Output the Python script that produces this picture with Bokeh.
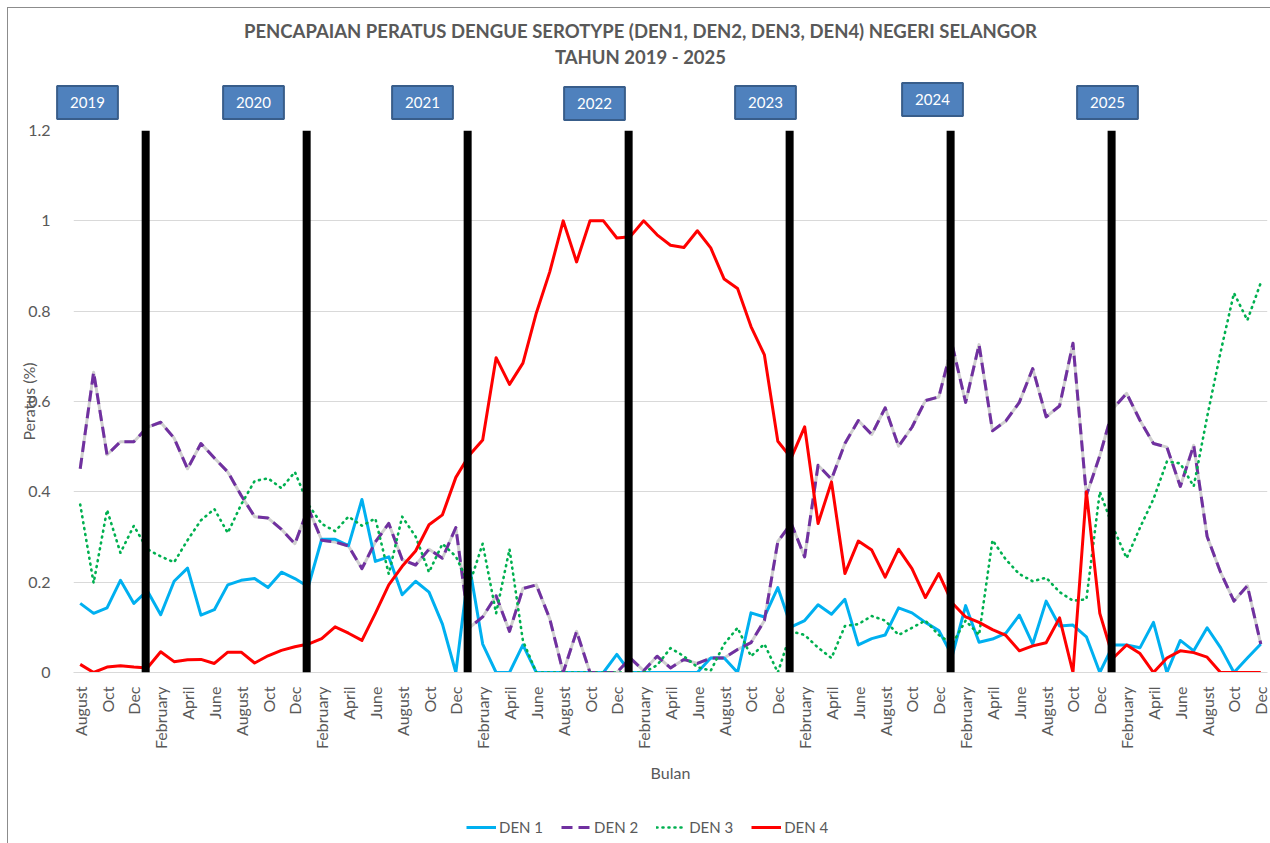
import numpy as np
from bokeh.plotting import figure
from bokeh.layouts import column
from bokeh.models import (Range1d, FixedTicker, CustomJSTickFormatter, Span,
                          Label, Legend, LegendItem)
from bokeh.embed import file_html
from bokeh.resources import INLINE

# ---------------- data ----------------
MONTH_NAMES = ["January", "February", "March", "April", "May", "June", "July",
               "August", "Sept", "Oct", "Nov", "Dec"]
START_MONTH = 7          # series starts in August
N_MONTHS = 89
months = [MONTH_NAMES[(START_MONTH + k) % 12] for k in range(N_MONTHS)]

YEARS = ["2019", "2020", "2021", "2022", "2023", "2024", "2025"]

den1 = [0.153, 0.131, 0.143, 0.204, 0.153, 0.181, 0.128, 0.202, 0.231, 0.127,
        0.139, 0.194, 0.204, 0.208, 0.188, 0.222, 0.208, 0.190, 0.295, 0.295,
        0.281, 0.383, 0.246, 0.256, 0.172, 0.202, 0.178, 0.107, 0.0, 0.238,
        0.063, 0.0, 0.0, 0.061, 0.0, 0.0, 0.0, 0.0, 0.0, 0.0,
        0.040, 0.0, 0.0, 0.0, 0.0, 0.0, 0.0, 0.032, 0.032, 0.0,
        0.132, 0.123, 0.188, 0.101, 0.115, 0.150, 0.129, 0.162, 0.061, 0.075,
        0.083, 0.143, 0.132, 0.111, 0.093, 0.037, 0.148, 0.067, 0.074, 0.087,
        0.127, 0.063, 0.158, 0.103, 0.105, 0.079, 0.0, 0.061, 0.061, 0.055,
        0.111, 0.0, 0.071, 0.048, 0.099, 0.055, 0.0, 0.032, 0.063]

den2 = [0.451, 0.665, 0.482, 0.511, 0.511, 0.543, 0.554, 0.519, 0.451, 0.507,
        0.475, 0.444, 0.392, 0.345, 0.342, 0.317, 0.285, 0.364, 0.293, 0.289,
        0.280, 0.230, 0.289, 0.330, 0.250, 0.238, 0.273, 0.253, 0.321, 0.099,
        0.123, 0.170, 0.091, 0.186, 0.194, 0.119, 0.0, 0.091, 0.0, 0.0,
        0.0, 0.032, 0.004, 0.036, 0.010, 0.029, 0.020, 0.032, 0.032, 0.051,
        0.066, 0.115, 0.290, 0.330, 0.256, 0.459, 0.428, 0.507, 0.558, 0.527,
        0.586, 0.501, 0.543, 0.602, 0.610, 0.725, 0.598, 0.726, 0.535, 0.557,
        0.598, 0.673, 0.566, 0.590, 0.729, 0.392, 0.480, 0.585, 0.618, 0.558,
        0.507, 0.499, 0.412, 0.503, 0.301, 0.222, 0.158, 0.192, 0.063]

den3 = [0.372, 0.198, 0.360, 0.265, 0.325, 0.273, 0.257, 0.244, 0.293, 0.337,
        0.362, 0.309, 0.372, 0.424, 0.430, 0.408, 0.444, 0.372, 0.329, 0.313,
        0.345, 0.325, 0.341, 0.218, 0.345, 0.301, 0.222, 0.285, 0.257, 0.194,
        0.285, 0.131, 0.273, 0.070, 0.0, 0.0, 0.0, 0.0, 0.0, 0.0,
        0.0, 0.0, 0.0, 0.016, 0.054, 0.036, 0.012, 0.004, 0.063, 0.099,
        0.036, 0.063, 0.0, 0.091, 0.083, 0.055, 0.032, 0.103, 0.107, 0.125,
        0.115, 0.083, 0.099, 0.115, 0.083, 0.063, 0.115, 0.083, 0.293, 0.250,
        0.218, 0.202, 0.210, 0.178, 0.159, 0.162, 0.400, 0.321, 0.253, 0.321,
        0.384, 0.467, 0.463, 0.412, 0.566, 0.709, 0.840, 0.780, 0.863]

den4 = [0.018, 0.0, 0.012, 0.015, 0.012, 0.010, 0.046, 0.024, 0.028, 0.029,
        0.020, 0.045, 0.045, 0.021, 0.037, 0.049, 0.057, 0.063, 0.075, 0.101,
        0.087, 0.071, 0.131, 0.194, 0.235, 0.269, 0.327, 0.349, 0.432, 0.481,
        0.515, 0.697, 0.638, 0.685, 0.796, 0.887, 1.0, 0.909, 1.0, 1.0,
        0.962, 0.965, 1.0, 0.969, 0.946, 0.941, 0.978, 0.940, 0.871, 0.850,
        0.766, 0.703, 0.512, 0.475, 0.544, 0.330, 0.422, 0.219, 0.291, 0.271,
        0.211, 0.273, 0.230, 0.166, 0.219, 0.154, 0.123, 0.111, 0.095, 0.082,
        0.048, 0.059, 0.066, 0.121, 0.0, 0.400, 0.131, 0.032, 0.061, 0.042,
        0.0, 0.032, 0.048, 0.044, 0.034, 0.0, 0.0, 0.0, 0.0]

SERIES_NAMES = ["DEN 1", "DEN 2", "DEN 3", "DEN 4"]
SERIES_COLORS = ["#00B0F0", "#7030A0", "#00B050", "#FF0000"]
TITLE_1 = "PENCAPAIAN PERATUS DENGUE SEROTYPE (DEN1, DEN2, DEN3, DEN4) NEGERI SELANGOR"
TITLE_2 = "TAHUN 2019 - 2025"

# ---------------- layout / style ----------------
FONT = "Lato"
GRAY = "#595959"
W = 1270
PAGE_H = 843
TOP_H = 121                  # header strip (title + year boxes)
MAIN_BOTTOM = 805            # page y where the chart strip ends
MAIN_H = MAIN_BOTTOM - TOP_H
LEG_H = PAGE_H - MAIN_BOTTOM
FR_L, FR_R = 73, 1267        # plot frame, page pixels
FR_T, FR_B = 130, 672

# year box centres (page pixels)
BOX_X = [87, 253, 422, 594, 765, 932, 1107]
BOX_Y = [102, 102, 102, 103, 102, 99, 102]

STYLES = [dict(line_width=3, line_dash="solid"),
          dict(line_width=3, line_dash="11 6"),
          dict(line_width=2.6, line_dash="1 5", line_cap="round"),
          dict(line_width=3, line_dash="solid")]


def strip(height):
    f = figure(width=W, height=height, output_backend="svg", toolbar_location=None,
               x_range=Range1d(0, W), y_range=Range1d(0, height),
               x_axis_location=None, y_axis_location=None, title=None,
               min_border=0)
    f.outline_line_color = None
    f.background_fill_alpha = 0
    f.border_fill_alpha = 0
    f.xgrid.visible = False
    f.ygrid.visible = False
    f.grid.visible = False
    return f


top = strip(TOP_H)
leg = strip(LEG_H)

# ---------------- main chart ----------------
x = list(range(N_MONTHS))

p = figure(width=W, height=MAIN_H, output_backend="svg", toolbar_location=None,
           x_range=Range1d(-0.5, N_MONTHS - 0.5), y_range=Range1d(0, 1.2),
           title=None,
           min_border_left=FR_L, min_border_right=W - FR_R,
           min_border_top=FR_T - TOP_H, min_border_bottom=MAIN_BOTTOM - FR_B)
p.outline_line_color = None
p.background_fill_color = "white"
p.border_fill_alpha = 0

# frames of the strips must not be aligned with the chart frame
x_off = 0
for f in (top, p, leg):
    if "frame_align" in f.properties():
        f.frame_align = False
    else:
        x_off = FR_L

# header: title + year boxes
for txt, ty in [(TITLE_1, 30), (TITLE_2, 56)]:
    top.add_layout(Label(x=640 - x_off, y=TOP_H - ty, x_units="screen", y_units="screen",
                         text=txt, text_align="center", text_baseline="middle",
                         text_font=FONT, text_font_size="18.5px",
                         text_font_style="bold", text_color=GRAY))

for yr, bx, by in zip(YEARS, BOX_X, BOX_Y):
    top.add_layout(Label(x=bx - x_off, y=TOP_H - by, x_units="screen", y_units="screen",
                         text=yr, text_align="center", text_baseline="middle",
                         text_font=FONT, text_font_size="15px", text_color="white",
                         background_fill_color="#4F81BD", border_line_color="#385D8A",
                         border_line_width=2, padding=(13, 11)))

# y axis
p.yaxis.ticker = FixedTicker(ticks=[0, 0.2, 0.4, 0.6, 0.8, 1.0, 1.2])
p.yaxis.formatter = CustomJSTickFormatter(code="return (Math.round(tick*10)/10).toString();")
p.yaxis.axis_line_color = None
p.yaxis.major_tick_line_color = None
p.yaxis.minor_tick_line_color = None
p.yaxis.major_label_text_font = FONT
p.yaxis.major_label_text_font_size = "16px"
p.yaxis.major_label_text_color = GRAY
p.yaxis.major_label_standoff = 17
p.yaxis.axis_label = "Peratus (%)"
p.yaxis.axis_label_text_font = FONT
p.yaxis.axis_label_text_font_size = "16px"
p.yaxis.axis_label_text_font_style = "normal"
p.yaxis.axis_label_text_color = GRAY
p.yaxis.axis_label_standoff = -13
p.ygrid.grid_line_color = "#D9D9D9"
p.xgrid.grid_line_color = None

# x axis
p.xaxis.ticker = FixedTicker(ticks=list(range(0, N_MONTHS, 2)))
p.xaxis.major_label_overrides = {i: months[i] for i in range(0, N_MONTHS, 2)}
p.xaxis.major_label_orientation = np.pi / 2
p.xaxis.axis_line_color = "#D9D9D9"
p.xaxis.major_tick_line_color = None
p.xaxis.minor_tick_line_color = None
p.xaxis.major_label_standoff = 8
p.xaxis.major_label_text_font = FONT
p.xaxis.major_label_text_font_size = "16px"
p.xaxis.major_label_text_color = GRAY
p.xaxis.axis_label = "Bulan"
p.xaxis.axis_label_text_font = FONT
p.xaxis.axis_label_text_font_size = "16px"
p.xaxis.axis_label_text_font_style = "normal"
p.xaxis.axis_label_text_color = GRAY
p.xaxis.axis_label_standoff = 11

# series (DEN 2 gets a light grey shadow line under its dashes)
p.line(x, den2, line_color="#CFCFCF", line_width=3, line_join="round")
for vals, col, st in zip([den1, den2, den3, den4], SERIES_COLORS, STYLES):
    p.line(x, vals, line_color=col, line_join="round", **st)

# year separators (at each January)
for k, m in enumerate(months):
    if m == "January":
        p.add_layout(Span(location=k - 0.12, dimension="height",
                          line_color="black", line_width=8))

# legend strip: proxy renderers placed outside the strip's visible range
items = []
for name, col, st in zip(SERIES_NAMES, SERIES_COLORS, STYLES):
    r = leg.line(x=[-50, -40], y=[-50, -50], line_color=col, **st)
    items.append(LegendItem(label=name, renderers=[r]))
legend = Legend(items=items, orientation="horizontal",
                location=(466 - x_off, 7))
legend.label_text_font = FONT
legend.label_text_font_size = "15px"
legend.label_text_color = GRAY
legend.glyph_width = 30
legend.glyph_height = 18
legend.label_height = 18
legend.label_standoff = 3
legend.spacing = 18
legend.padding = 0
legend.margin = 0
legend.border_line_color = None
legend.background_fill_alpha = 0
leg.add_layout(legend)

layout = column(top, p, leg, spacing=0)
layout.styles = {
    "background": ("linear-gradient(#8c8c8c,#8c8c8c) 7px 7px / 1px calc(100% - 7px) no-repeat, "
                   "linear-gradient(#8c8c8c,#8c8c8c) 7px 7px / calc(100% - 7px) 1px no-repeat, "
                   "#ffffff"),
}

open("out.html", "w").write(file_html(layout, INLINE))
